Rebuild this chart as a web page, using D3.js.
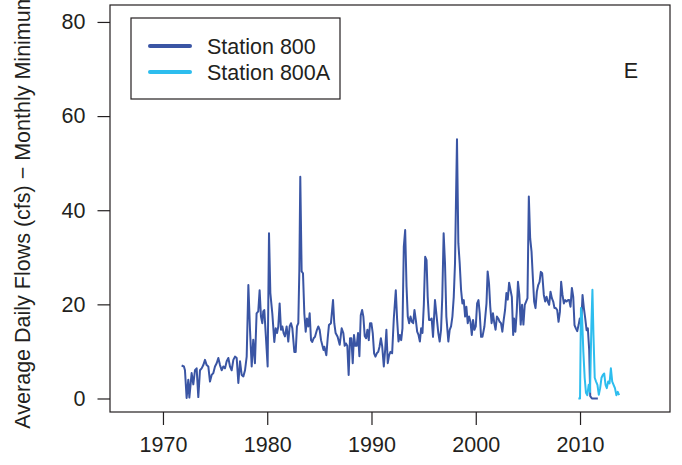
<!DOCTYPE html>
<html>
<head>
<meta charset="utf-8">
<script src="https://cdn.jsdelivr.net/npm/d3@7"></script>
<style>
  html, body { margin: 0; padding: 0; background: #fff; }
  svg { display: block; font-family: "Liberation Sans", Arial, Helvetica, sans-serif; }
</style>
</head>
<body>
<svg id="chart" width="682" height="465"></svg>
<script>
// Monthly minimum of average daily flow (cfs), Station 800 (decimal year, flow)
const s800Year = [
  1971.79,1972.01,1972.11,1972.27,1972.43,1972.53,1972.75,1972.91,1973.07,1973.23,1973.39,1973.55,1973.71,1973.87,
  1974.03,1974.19,1974.35,1974.51,1974.67,1974.83,1974.99,1975.15,1975.31,1975.47,1975.63,1975.79,1975.95,
  1976.11,1976.27,1976.43,1976.59,1976.75,1976.91,1977.07,1977.23,1977.39,1977.55,1977.71,1977.87,
  1978.03,1978.19,1978.35,1978.51,1978.66,1978.82,1978.98,1979.14,1979.27,1979.40,1979.53,1979.62,1979.72,1979.85,
  1980.04,1980.17,1980.30,1980.49,1980.68,1980.81,1980.94,1981.06,1981.19,1981.32,1981.45,1981.57,1981.70,1981.86,
  1982.02,1982.15,1982.28,1982.41,1982.60,1982.73,1982.85,1982.98,1983.08,1983.17,1983.30,1983.43,1983.56,1983.69,1983.81,1983.94,
  1984.07,1984.20,1984.32,1984.45,1984.58,1984.77,1984.90,1985.03,1985.16,1985.40,1985.48,1985.67,1985.80,1985.92,
  1986.11,1986.31,1986.43,1986.56,1986.75,1986.95,1987.14,1987.30,1987.43,1987.55,1987.68,1987.81,1987.94,
  1988.07,1988.20,1988.32,1988.45,1988.58,1988.71,1988.84,1988.97,1989.10,1989.22,1989.35,1989.48,1989.61,1989.74,1989.86,1989.99,
  1990.12,1990.25,1990.38,1990.51,1990.64,1990.77,1990.90,1991.03,1991.18,1991.31,1991.43,1991.56,1991.69,1991.82,1991.98,
  1992.14,1992.33,1992.46,1992.59,1992.72,1992.85,1992.97,1993.10,1993.23,1993.36,1993.48,1993.61,1993.74,1993.87,
  1994.00,1994.12,1994.25,1994.38,1994.51,1994.64,1994.76,1994.89,1995.02,1995.15,1995.28,1995.39,1995.52,1995.64,1995.77,1995.90,
  1996.09,1996.28,1996.41,1996.54,1996.67,1996.79,1996.92,1997.05,1997.18,1997.37,1997.50,1997.63,1997.76,1997.89,
  1998.01,1998.11,1998.20,1998.33,1998.46,1998.59,1998.72,1998.85,1998.98,1999.10,1999.23,1999.36,1999.49,1999.62,1999.74,1999.87,
  2000.00,2000.13,2000.26,2000.38,2000.51,2000.64,2000.83,2001.03,2001.14,2001.27,2001.39,2001.52,2001.65,2001.78,2001.90,
  2002.03,2002.16,2002.29,2002.42,2002.55,2002.68,2002.81,2002.94,2003.07,2003.20,2003.33,2003.46,2003.59,2003.67,2003.80,2003.93,
  2004.05,2004.18,2004.31,2004.44,2004.57,2004.70,2004.83,2004.96,2005.09,2005.22,2005.35,2005.48,2005.60,2005.73,2005.86,2005.99,
  2006.12,2006.24,2006.37,2006.53,2006.66,2006.79,2006.91,2007.04,2007.17,2007.30,2007.43,2007.55,2007.68,2007.81,2007.94,
  2008.07,2008.19,2008.32,2008.45,2008.58,2008.71,2008.84,2008.96,2009.09,2009.22,2009.35,2009.47,2009.60,2009.73,2009.86,2009.98,
  2010.11,2010.24,2010.37,2010.50,2010.63,2010.75,2010.88,2010.98,2011.14,2011.71
];
const s800Flow = [
  7.0,6.8,6.0,0.1,4.0,0.2,5.4,3.0,6.0,6.4,0.3,6.0,6.4,7.1,
  8.2,7.1,6.8,3.6,5.0,5.4,6.8,7.5,8.6,7.1,6.0,6.8,6.4,
  7.9,8.6,6.8,6.0,8.2,8.9,8.6,3.3,7.9,5.0,4.7,6.0,
  8.9,24.1,14.5,6.8,12.5,7.5,18.1,18.5,23.0,17.4,16.0,18.5,18.8,13.9,
  6.8,35.1,22.4,18.0,12.0,14.9,13.9,15.3,20.2,14.6,15.3,13.9,13.2,15.3,
  12.1,15.3,16.0,14.9,9.9,9.9,15.3,16.0,27.3,47.1,27.0,26.6,18.0,14.2,17.0,15.3,
  18.1,12.4,12.0,12.8,13.1,14.6,15.3,14.6,12.4,10.3,11.0,9.2,12.8,15.6,
  16.0,20.9,16.0,13.9,13.1,11.4,14.9,13.9,11.2,11.7,11.2,5.0,12.8,
  12.8,7.5,13.5,11.2,11.2,13.9,9.0,17.7,18.8,17.4,13.3,12.8,14.6,12.4,16.0,16.0,
  13.9,9.6,8.9,9.6,9.9,11.0,12.8,11.0,6.8,10.3,14.6,7.5,9.2,9.9,9.6,
  17.0,23.0,16.7,12.1,13.5,12.4,14.9,32.3,35.8,23.8,17.4,16.0,17.4,16.3,
  16.0,18.8,16.7,14.2,13.5,12.1,14.9,13.9,19.9,30.1,29.4,21.6,16.7,16.7,17.0,13.1,
  20.9,16.7,13.9,12.1,14.6,21.6,35.1,28.7,17.4,12.1,14.6,15.3,17.4,21.6,
  28.7,42.9,55.1,33.0,28.7,23.1,20.2,20.9,17.4,19.5,16.0,17.4,16.3,13.5,16.7,14.6,
  15.3,20.2,20.9,18.1,13.1,13.1,15.3,20.2,27.0,24.5,19.5,16.0,18.1,16.0,14.6,
  17.4,17.0,16.3,16.0,14.2,16.7,18.8,22.4,21.0,24.6,23.1,21.6,13.5,17.0,14.2,18.4,
  24.8,22.0,15.7,19.9,15.7,19.9,20.6,21.3,42.9,34.0,31.2,25.5,20.6,19.2,22.7,24.1,
  24.8,26.9,26.6,22.0,20.6,21.6,20.6,19.9,22.7,21.3,20.6,19.2,19.2,18.8,16.3,
  18.4,24.8,22.0,20.2,20.9,20.6,20.9,20.9,19.5,23.5,21.6,15.6,14.9,14.3,15.6,17.0,
  15.6,22.0,19.2,17.0,14.5,14.9,10.3,0.5,0.0,0.0
];

// Station 800A (replacement gauge)
const s800aYear = [
  2009.84,2010.00,2010.09,2010.19,2010.32,2010.45,2010.57,2010.70,2010.83,2010.96,
  2011.09,2011.19,2011.29,2011.41,2011.54,2011.67,2011.80,2011.93,2012.06,2012.19,2012.32,2012.45,2012.57,2012.70,2012.83,2012.96,
  2013.09,2013.22,2013.35,2013.49,2013.62,2013.75
];
const s800aFlow = [
  0.0,0.0,19.2,17.6,9.9,4.3,1.2,0.7,2.9,1.4,
  15.6,23.1,13.5,4.4,3.6,2.9,0.8,2.2,4.4,5.0,5.3,2.9,2.2,3.6,3.2,6.4,
  3.6,2.9,2.2,0.7,1.4,0.7
];

const xTicks = [1970, 1980, 1990, 2000, 2010];
const yTicks = [0, 20, 40, 60, 80];
const seriesNames = ["Station 800", "Station 800A"];
const seriesColors = ["#3a55a4", "#2dbdee"];
const yLabel = "Average Daily Flows (cfs) \u2212 Monthly Minimum";
const panelLetter = "E";

const svg = d3.select("#chart");
const plot = { left: 110, right: 670, top: 5, bottom: 412 };
const fontSize = "21.5px";

const x = d3.scaleLinear().domain([1964.92, 2018.63]).range([plot.left, plot.right]);
const y = d3.scaleLinear().domain([-2.87, 83.6]).range([plot.bottom, plot.top]);

const ink = "#231f20";

// axes
const yAxis = svg.append("g")
  .attr("transform", `translate(${plot.left},0)`)
  .call(d3.axisLeft(y).tickValues(yTicks).tickSize(12.5).tickPadding(12).tickFormat(d3.format("d")));
const xAxis = svg.append("g")
  .attr("transform", `translate(0,${plot.bottom})`)
  .call(d3.axisBottom(x).tickValues(xTicks).tickSize(13).tickPadding(12).tickFormat(d3.format("d")));

[xAxis, yAxis].forEach(g => {
  g.select(".domain").remove();
  g.selectAll(".tick line").attr("stroke", ink).attr("stroke-width", 1.2);
  g.selectAll(".tick text").attr("fill", ink).style("font-size", fontSize)
    .style("font-family", '"Liberation Sans", Arial, sans-serif');
});

// plot frame
svg.append("rect")
  .attr("x", plot.left).attr("y", plot.top)
  .attr("width", plot.right - plot.left).attr("height", plot.bottom - plot.top)
  .attr("fill", "none").attr("stroke", ink).attr("stroke-width", 1.2);

// y-axis title
svg.append("text")
  .attr("transform", `translate(30,${(plot.top + plot.bottom) / 2 + 2}) rotate(-90)`)
  .attr("text-anchor", "middle")
  .attr("fill", ink)
  .style("font-size", fontSize)
  .text(yLabel);

// series lines
const line = d3.line().x(d => x(d[0])).y(d => y(d[1]));
const series = [
  s800Year.map((t, i) => [t, s800Flow[i]]),
  s800aYear.map((t, i) => [t, s800aFlow[i]])
];
series.forEach((pts, i) => {
  svg.append("path")
    .datum(pts)
    .attr("d", line)
    .attr("fill", "none")
    .attr("stroke", seriesColors[i])
    .attr("stroke-width", 2)
    .attr("stroke-linejoin", "round");
});

// legend
const lg = svg.append("g");
lg.append("rect")
  .attr("x", 131).attr("y", 18).attr("width", 209).attr("height", 81)
  .attr("fill", "#fff").attr("stroke", ink).attr("stroke-width", 1.2);
seriesNames.forEach((name, i) => {
  const cy = 46 + i * 26;
  lg.append("line")
    .attr("x1", 150).attr("x2", 190).attr("y1", cy).attr("y2", cy)
    .attr("stroke", seriesColors[i]).attr("stroke-width", 4).attr("stroke-linecap", "round");
  lg.append("text")
    .attr("x", 207).attr("y", cy).attr("dy", "0.35em")
    .attr("fill", ink).style("font-size", fontSize)
    .text(name);
});

// panel letter
svg.append("text")
  .attr("x", 631).attr("y", 70).attr("dy", "0.35em")
  .attr("text-anchor", "middle")
  .attr("fill", ink).style("font-size", fontSize)
  .text(panelLetter);
</script>
</body>
</html>
